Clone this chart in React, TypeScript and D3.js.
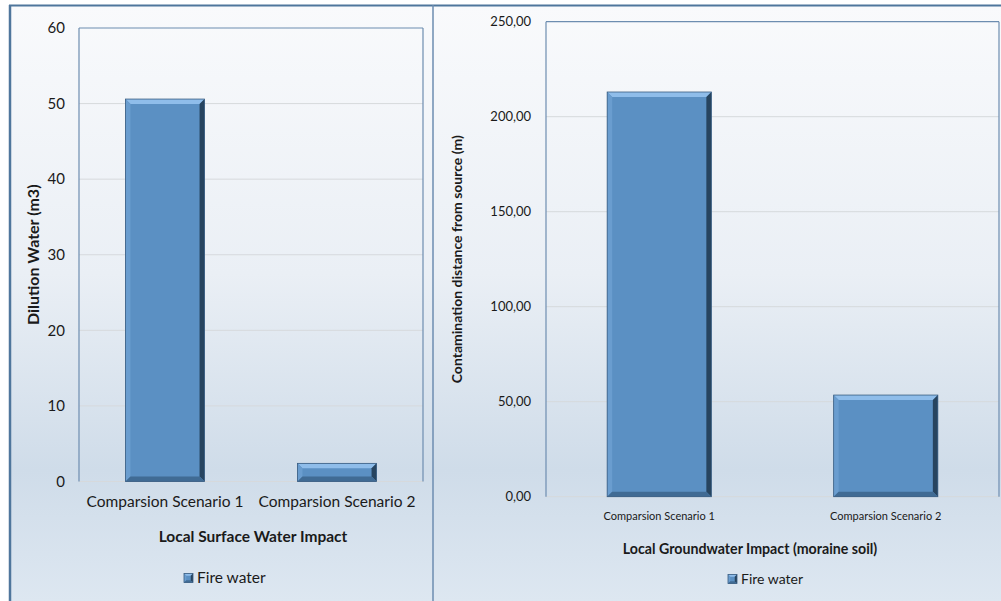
import React from 'react';
import * as d3 from 'd3';

const categories = ['Comparsion Scenario 1', 'Comparsion Scenario 2'];
const surfaceValues = [50.6, 2.4];
const groundValues = [213, 53.5];
const surfaceTicks = [0, 10, 20, 30, 40, 50, 60];
const groundTicks = [0, 50, 100, 150, 200, 250];
const seriesName = 'Fire water';

const FONT = 'Lato, "Open Sans", sans-serif';
const colors = {
  frame: '#6d8db0',
  border: '#4f769c',
  grid: '#d6d9dc',
  text: '#1a1a1a',
  face: '#5b90c3',
  top: '#8fbdea',
  left: '#6a9dcf',
  right: '#27445f',
  bottom: '#406b94',
  edge: '#3a5d80',
};

const BevelBar = ({ x, y, w, h }) => {
  const b = Math.min(5, h / 2.5, w / 4);
  const pts = (arr) => arr.map((p) => p.join(',')).join(' ');
  return (
    <g>
      <rect x={x} y={y} width={w} height={h} fill={colors.face} />
      <polygon points={pts([[x, y], [x + w, y], [x + w - b, y + b], [x + b, y + b]])} fill={colors.top} />
      <polygon points={pts([[x, y], [x + b, y + b], [x + b, y + h - b], [x, y + h]])} fill={colors.left} />
      <polygon points={pts([[x + w, y], [x + w, y + h], [x + w - b, y + h - b], [x + w - b, y + b]])} fill={colors.right} />
      <polygon points={pts([[x, y + h], [x + w, y + h], [x + w - b, y + h - b], [x + b, y + h - b]])} fill={colors.bottom} />
      <rect x={x} y={y} width={w} height={h} fill="none" stroke={colors.edge} strokeWidth={0.8} />
    </g>
  );
};

const Panel = ({ box, values, ticks, fmt, yTitle, xTitle, xTitleX, yTitleX, yTitleSize, tickX, tickSize, catY, catSize, xTitleY, titleSize, legendX, legendY, legendSize }) => {
  const x = d3.scaleBand().domain(categories).range([box.left, box.right]).paddingInner(0.54).paddingOuter(0.27);
  const y = d3.scaleLinear().domain([0, ticks[ticks.length - 1]]).range([box.bottom, box.top]);
  return (
    <g>
      {ticks.slice(0, -1).map((t) => (
        <line key={t} x1={box.left} x2={box.right} y1={y(t)} y2={y(t)} stroke={colors.grid} strokeWidth={1} />
      ))}
      <line x1={box.left} x2={box.right} y1={box.top} y2={box.top} stroke={colors.frame} strokeWidth={1.2} />
      <line x1={box.left} x2={box.left} y1={box.top} y2={box.bottom} stroke={colors.frame} strokeWidth={1.2} />
      <line x1={box.right} x2={box.right} y1={box.top} y2={box.bottom} stroke={colors.frame} strokeWidth={1.2} />
      {values.map((v, i) => (
        <BevelBar key={i} x={x(categories[i])} y={y(v)} w={x.bandwidth()} h={y(0) - y(v)} />
      ))}
      {ticks.map((t) => (
        <text key={t} x={tickX} y={y(t)} dy="0.35em" textAnchor="end" fontSize={tickSize} fill={colors.text} fontFamily={FONT}>
          {fmt(t)}
        </text>
      ))}
      {categories.map((c) => (
        <text key={c} x={x(c) + x.bandwidth() / 2} y={catY} dy="0.35em" textAnchor="middle" fontSize={catSize} fill={colors.text} fontFamily={FONT}>
          {c}
        </text>
      ))}
      <text x={xTitleX} y={xTitleY} dy="0.35em" textAnchor="middle" fontSize={titleSize} fontWeight="bold" fill={colors.text} fontFamily={FONT}>
        {xTitle}
      </text>
      <text transform={`translate(${yTitleX},${(box.top + box.bottom) / 2}) rotate(-90)`} dy="0.35em" textAnchor="middle" fontSize={yTitleSize} fontWeight="bold" fill={colors.text} fontFamily={FONT}>
        {yTitle}
      </text>
      <BevelBar x={legendX} y={legendY - 4.5} w={9} h={9} />
      <text x={legendX + 13} y={legendY} dy="0.35em" fontSize={legendSize} fill={colors.text} fontFamily={FONT}>
        {seriesName}
      </text>
    </g>
  );
};

const App = () => {
  const W = 1001;
  const H = 601;
  return (
    <svg width={W} height={H} style={{ position: 'absolute', left: 0, top: 0 }}>
      <defs>
        <linearGradient id="bg" x1="0" y1="0" x2="0" y2="1">
          <stop offset="0" stopColor="#f9fafc" />
          <stop offset="0.45" stopColor="#eaeff5" />
          <stop offset="0.78" stopColor="#cfdce9" />
          <stop offset="1" stopColor="#dde7f1" />
        </linearGradient>
      </defs>
      <rect x={0} y={0} width={W} height={H} fill="#ffffff" />
      <rect x={10} y={6} width={W - 10} height={H - 6} fill="url(#bg)" />
      <line x1={9} x2={W} y1={5.5} y2={5.5} stroke={colors.border} strokeWidth={2} />
      <line x1={10} x2={10} y1={5} y2={H} stroke={colors.border} strokeWidth={2.5} />
      <line x1={433} x2={433} y1={5} y2={H} stroke={colors.frame} strokeWidth={1.5} />
      <Panel
        box={{ left: 79, right: 423, top: 28, bottom: 481.5 }}
        values={surfaceValues}
        ticks={surfaceTicks}
        fmt={(t) => `${t}`}
        yTitle="Dilution Water (m3)"
        xTitle="Local Surface Water Impact"
        xTitleX={253}
        yTitleX={33}
        yTitleSize={16}
        tickX={65}
        tickSize={15}
        catY={502}
        catSize={15.5}
        xTitleY={537}
        titleSize={15.5}
        legendX={184}
        legendY={578}
        legendSize={15.5}
      />
      <Panel
        box={{ left: 546, right: 999, top: 21.7, bottom: 496.7 }}
        values={groundValues}
        ticks={groundTicks}
        fmt={(t) => d3.format('.2f')(t).replace('.', ',')}
        yTitle="Contamination distance from source (m)"
        xTitle="Local Groundwater Impact (moraine soil)"
        xTitleX={750}
        yTitleX={457}
        yTitleSize={14}
        tickX={531}
        tickSize={13}
        catY={516}
        catSize={11}
        xTitleY={549}
        titleSize={14.2}
        legendX={728}
        legendY={579}
        legendSize={14}
      />
    </svg>
  );
};

export default App;
